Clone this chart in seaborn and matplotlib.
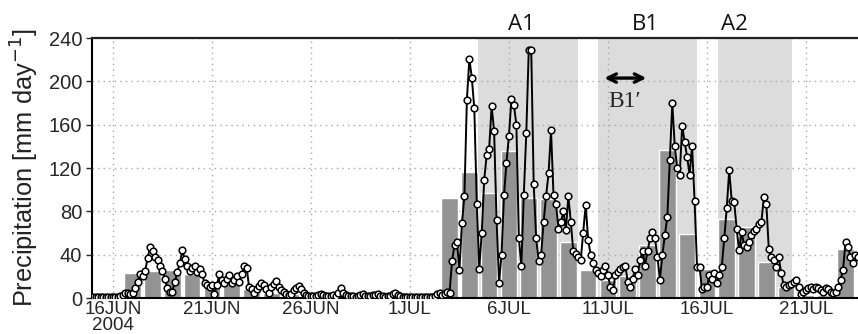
import numpy as np
import matplotlib
matplotlib.use('Agg')
import matplotlib.pyplot as plt
import seaborn as sns

# daily totals (bar), one per day, day 0 = 16 JUN 2004
bar_day = list(range(0, 38))
bar_mm = [1, 23, 25, 26, 22, 13, 14, 8, 5, 4,
          3, 2, 3, 2, 2, 2, 1, 92, 116, 97,
          136, 92, 91, 52, 26, 17, 20, 49, 137, 59,
          27, 73, 66, 33, 10, 3, 3, 45]

# 3-hourly rain rate, starting 15 JUN 00 (day -1)
rate_jun = [
    1, 1, 1, 1, 1, 1, 1, 1,
    1, 1, 1, 2, 3, 5, 5, 4,
    5, 9, 15, 22, 20, 25, 37, 47,
    43, 38, 35, 30, 25, 18, 9, 6,
    6, 15, 24, 32, 44, 36, 30, 25,
    28, 30, 24, 27, 22, 14, 12, 10,
    12, 4, 12, 22, 17, 14, 18, 21,
    14, 17, 20, 15, 22, 30, 28, 10,
    8, 5, 8, 11, 14, 12, 8, 5,
    10, 13, 16, 10, 7, 6, 4, 3,
    4, 7, 9, 11, 8, 5, 3, 2,
    2, 2, 2, 3, 4, 3, 2, 2,
    2, 3, 2, 5, 9, 5, 3, 2,
    2, 2, 1, 2, 3, 4, 2, 2,
    2, 3, 3, 4, 2, 2, 1, 2,
    2, 4, 5, 3, 2, 1, 1, 1,
]
rate_jul = [
    1, 1, 1, 1, 1, 1, 1, 1,
    1, 1, 2, 4, 5, 3, 4, 6,
    5, 34, 49, 52, 26, 69, 94, 183,
    221, 203, 175, 87, 27, 60, 109, 132,
    138, 177, 154, 72, 14, 40, 95, 125,
    150, 184, 178, 160, 55, 30, 95, 152,
    229, 229, 105, 55, 34, 40, 70, 94,
    115, 155, 95, 87, 64, 70, 80, 63,
    94, 70, 43, 41, 38, 35, 60, 86,
    54, 40, 32, 26, 23, 20, 26, 30,
    21, 10, 7, 21, 24, 27, 29, 30,
    15, 10, 18, 27, 21, 35, 43, 30,
    43, 55, 61, 55, 38, 17, 40, 58,
    75, 127, 180, 140, 120, 114, 159, 144,
    130, 114, 140, 90, 29, 29, 8, 10,
    10, 21, 18, 23, 14, 21, 29, 55,
    83, 118, 90, 89, 64, 44, 61, 49,
    47, 52, 58, 62, 64, 68, 70, 93,
    87, 45, 38, 35, 29, 38, 23, 12,
    10, 12, 13, 15, 17, 10, 4, 6,
    7, 9, 10, 8, 10, 9, 7, 6,
    9, 8, 6, 5, 6, 10, 17, 26,
    52, 47, 38, 32, 40, 38,
]

tick_day = [0, 5, 10, 15, 20, 25, 30, 35]
tick_lab = ['16JUN\n2004', '21JUN', '26JUN', '1JUL', '6JUL', '11JUL', '16JUL', '21JUL']

# periods (start day, end day, label)
periods = [(18.45, 23.48, 'A1'), (24.51, 29.51, 'B1'), (30.57, 34.28, 'A2')]
label_day = [20.64, 26.87, 31.4]

sns.set_theme(style='white')
plt.rcParams['font.family'] = ['Liberation Sans', 'DejaVu Sans']

fig = plt.figure(figsize=(8.58, 3.34), dpi=100)
ax = fig.add_axes([92 / 858, 1 - 298 / 334, 1 - 92 / 858, 260 / 334])

rate = rate_jun + rate_jul
t = -1 + np.arange(len(rate)) / 8.0

for (a, b, name), xl in zip(periods, label_day):
    ax.axvspan(a, b, color='#dcdcdc', lw=0, zorder=0.2)
    ax.text(xl, 252, name, ha='center', va='center', fontsize=16,
            family=['Open Sans', 'DejaVu Sans'], color='#111111', clip_on=False)

sns.barplot(x=bar_day, y=bar_mm, native_scale=True, width=0.84, color='#939393',
            saturation=1, errorbar=None, ax=ax, zorder=1)

sns.lineplot(x=t, y=rate, color='black', lw=1.4, marker='o', markersize=4.8,
             markerfacecolor='white', markeredgecolor='black', markeredgewidth=1.1,
             ax=ax, zorder=3)

# B1' arrow
ax.annotate('', xy=(24.68, 203), xytext=(27.08, 203),
            arrowprops=dict(arrowstyle='<->', lw=2.4, color='black', mutation_scale=15))
ax.text(25.86, 181, 'B1\u2032', ha='center', va='center', fontsize=17,
        family=['Liberation Serif', 'DejaVu Serif'], color='#262626')

ax.set_xlim(-1.06, 37.63)
ax.set_ylim(0, 240)
ax.set_yticks(range(0, 241, 40))
ax.set_xticks(tick_day)
ax.set_xticklabels(tick_lab, fontsize=13.5, linespacing=0.95)
ax.tick_params(axis='y', labelsize=14.5, length=4, width=1, direction='out', pad=3, left=True)
ax.tick_params(axis='x', length=3, width=1, direction='in', pad=2, bottom=True)
ax.set_xlabel('')
ax.set_ylabel('Precipitation [mm day$^{-1}$]', fontsize=18.3, color='#222222')
ax.yaxis.set_label_coords((41 - 92) / (858 - 92), 0.5)

ax.set_axisbelow(True)
ax.grid(True, linestyle=(0, (1, 3)), color='#a8a8a8', lw=1.0)

for side in ['left', 'bottom']:
    ax.spines[side].set_color('black')
    ax.spines[side].set_linewidth(1.5)
ax.spines['top'].set_color('#222222')
ax.spines['top'].set_linewidth(1.6)
ax.spines['top'].set_linestyle((0, (3, 1)))
ax.spines['right'].set_visible(False)

fig.savefig('out.png', dpi=100)
